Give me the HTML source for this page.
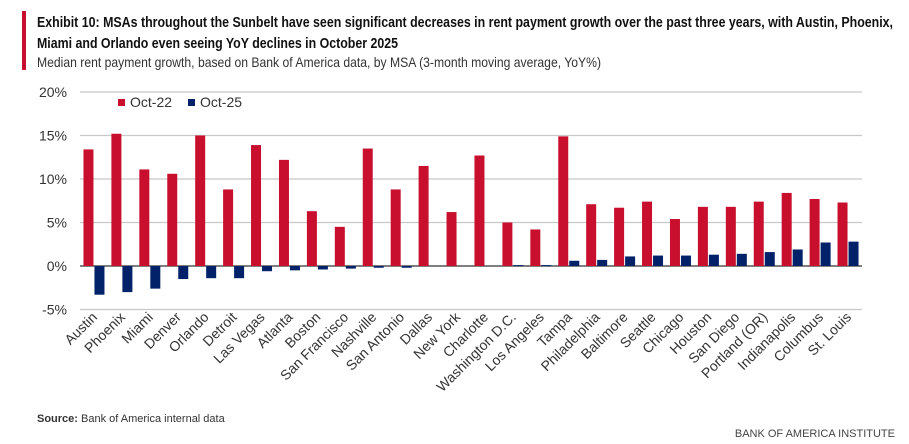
<!DOCTYPE html>
<html><head><meta charset="utf-8"><style>
body{margin:0;background:#fff}
svg{display:block;font-family:"Liberation Sans Narrow","Liberation Sans",sans-serif}
</style></head><body>
<svg id="c" width="909" height="444">
<rect x="22" y="11" width="4" height="59" fill="#c8102e"/>
<text x="37" y="27" font-size="15" font-weight="bold" fill="#111" textLength="856" lengthAdjust="spacingAndGlyphs">Exhibit 10: MSAs throughout the Sunbelt have seen significant decreases in rent payment growth over the past three years, with Austin, Phoenix,</text>
<text x="37" y="48" font-size="15" font-weight="bold" fill="#111" textLength="361" lengthAdjust="spacingAndGlyphs">Miami and Orlando even seeing YoY declines in October 2025</text>
<text x="37" y="67" font-size="14" fill="#333" textLength="564" lengthAdjust="spacingAndGlyphs">Median rent payment growth, based on Bank of America data, by MSA (3-month moving average, YoY%)</text>
<g id="grid"></g><g id="bars"></g><g id="xl"></g>
<rect x="118" y="99" width="7" height="7" fill="#c8102e"/>
<text x="130" y="107" font-size="14" fill="#333">Oct-22</text>
<rect x="188" y="99" width="7" height="7" fill="#012169"/>
<text x="200" y="107" font-size="14" fill="#333">Oct-25</text>
<text x="37" y="422" font-size="11" fill="#333"><tspan font-weight="bold">Source:</tspan> Bank of America internal data</text>
<text x="895" y="437" font-size="11" fill="#444" text-anchor="end">BANK OF AMERICA INSTITUTE</text>
</svg>
<script>
const categories=["Austin","Phoenix","Miami","Denver","Orlando","Detroit","Las Vegas","Atlanta","Boston","San Francisco","Nashville","San Antonio","Dallas","New York","Charlotte","Washington D.C.","Los Angeles","Tampa","Philadelphia","Baltimore","Seattle","Chicago","Houston","San Diego","Portland (OR)","Indianapolis","Columbus","St. Louis"];
const oct22=[13.4,15.2,11.1,10.6,15.0,8.8,13.9,12.2,6.3,4.5,13.5,8.8,11.5,6.2,12.7,5.0,4.2,14.9,7.1,6.7,7.4,5.4,6.8,6.8,7.4,8.4,7.7,7.3];
const oct25=[-3.3,-3.0,-2.6,-1.5,-1.4,-1.4,-0.6,-0.5,-0.4,-0.3,-0.2,-0.2,0,0,0,0.1,0.1,0.6,0.7,1.1,1.2,1.2,1.3,1.4,1.6,1.9,2.7,2.8];
const ticks=[-5,0,5,10,15,20];
const NS="http://www.w3.org/2000/svg";
const x0=80,x1=862,step=(x1-x0)/categories.length;
const y=v=>266-v*8.7;
const xc=i=>x0+step*(i+0.5);
function mk(t,a,p){const e=document.createElementNS(NS,t);for(const k in a)e.setAttribute(k,a[k]);p.appendChild(e);return e;}
const grid=document.getElementById('grid'),bars=document.getElementById('bars'),xl=document.getElementById('xl');
ticks.forEach(t=>{
 const l=mk('line',{x1:x0,x2:x1,y1:y(t),y2:y(t),stroke:t===0?'#555':'#c8c8c8','stroke-width':t===0?1.5:1.2},grid);
 
 
 const tx=mk('text',{x:67,y:y(t)+5,'font-size':14,fill:'#333','text-anchor':'end'},grid);
 tx.textContent=t+'%';
 
 
});
categories.forEach((c,i)=>{
 const cx=xc(i);
 const a=oct22[i],b=oct25[i];
 const r=mk('rect',{x:cx-10.5,y:Math.min(y(a),y(0)),width:10,height:Math.abs(y(a)-y(0)),fill:'#c8102e'},bars);
 
 
 const r2=mk('rect',{x:cx+0.5,y:Math.min(y(b),y(0)),width:10,height:Math.max(Math.abs(y(b)-y(0)),b===0?0:1),fill:'#012169'},bars);
 
 
 const t=mk('text',{x:cx+4,y:318,'font-size':14,fill:'#333','text-anchor':'end',transform:`rotate(-45 ${cx+4} 318)`},xl);
 t.textContent=c;
 
 
});
</script>
</body></html>
